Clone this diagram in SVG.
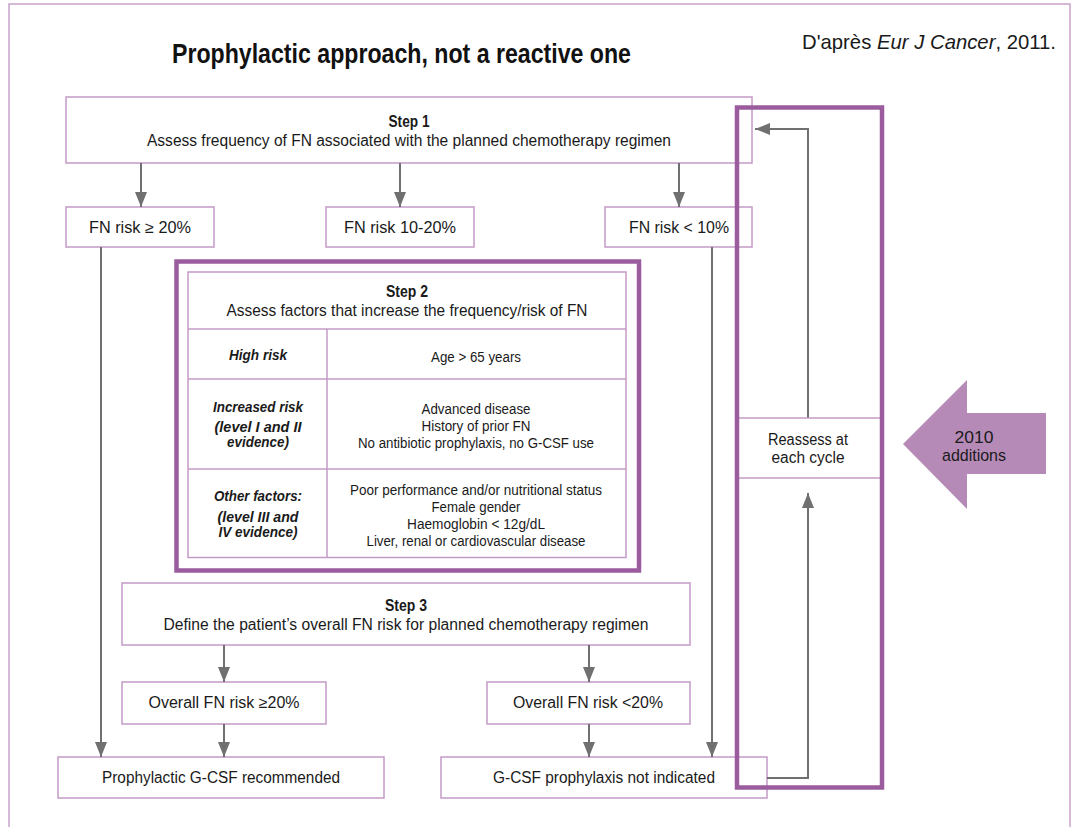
<svg xmlns="http://www.w3.org/2000/svg" width="1079" height="827" viewBox="0 0 1079 827">
<style>
.frame{fill:none;stroke:#c9a3cc;stroke-width:1.5}
.box{fill:#fff;stroke:#c49bc7;stroke-width:1.5}
.thin{fill:none;stroke:#c49bc7;stroke-width:1.5}
.thick{fill:none;stroke:#9b5c9e;stroke-width:4.5}
.conn{fill:none;stroke:#707070;stroke-width:2}
text{font-family:"Liberation Sans",Arial,sans-serif;fill:#1a1a1a;text-anchor:middle}
.start{text-anchor:start}
.t{font-size:16px}
.b{font-weight:bold}
.s{font-size:14px}
.bi{font-size:14px;font-weight:bold;font-style:italic}
.title{font-family:"Liberation Sans Narrow","Liberation Sans",Arial,sans-serif;font-size:28px;font-weight:bold;fill:#111}
.cite{font-size:21px}
.add{font-size:17px}
</style>
<defs>
<marker id="ah" markerUnits="userSpaceOnUse" markerWidth="15" markerHeight="12" refX="15" refY="6" orient="auto" viewBox="0 0 15 12">
<path d="M0,0 L15,6 L0,12 Z" fill="#707070"/>
</marker>
</defs>
<rect x="0" y="0" width="1079" height="827" fill="#fff"/>
<rect class="frame" x="9" y="4" width="1061" height="840"/>

<g id="title">
<text class="title start" x="172" y="63" textLength="459" lengthAdjust="spacingAndGlyphs">Prophylactic approach, not a reactive one</text>
</g>
<g id="citation">
<text class="cite start" x="802" y="49" textLength="254" lengthAdjust="spacingAndGlyphs">D'après <tspan font-style="italic">Eur J Cancer</tspan>, 2011.</text>
</g>

<g id="step1">
<rect class="box" x="66" y="97" width="686" height="66"/>
<text class="t b" x="409" y="127" textLength="41" lengthAdjust="spacingAndGlyphs">Step 1</text>
<text class="t" x="409" y="146" textLength="524" lengthAdjust="spacingAndGlyphs">Assess frequency of FN associated with the planned chemotherapy regimen</text>
</g>

<g id="fn-high">
<rect class="box" x="66" y="207" width="148" height="40"/>
<text class="t" x="140" y="233" textLength="102" lengthAdjust="spacingAndGlyphs">FN risk ≥ 20%</text>
</g>
<g id="fn-mid">
<rect class="box" x="326" y="207" width="148" height="40"/>
<text class="t" x="400" y="233" textLength="112" lengthAdjust="spacingAndGlyphs">FN risk 10-20%</text>
</g>
<g id="fn-low">
<rect class="box" x="605" y="207" width="147" height="40"/>
<text class="t" x="679" y="233" textLength="100" lengthAdjust="spacingAndGlyphs">FN risk &lt; 10%</text>
</g>

<g id="step2">
<rect class="box" x="188" y="272" width="438" height="285.5"/>
<line class="thin" x1="188" y1="329" x2="626" y2="329"/>
<line class="thin" x1="188" y1="379" x2="626" y2="379"/>
<line class="thin" x1="188" y1="469" x2="626" y2="469"/>
<line class="thin" x1="327" y1="329" x2="327" y2="557.5"/>
<rect class="thick" x="176.5" y="261.5" width="462.5" height="309"/>
<text class="t b" x="407" y="297" textLength="42" lengthAdjust="spacingAndGlyphs">Step 2</text>
<text class="t" x="407" y="316" textLength="361" lengthAdjust="spacingAndGlyphs">Assess factors that increase the frequency/risk of FN</text>
<text class="bi" x="258" y="360" textLength="58" lengthAdjust="spacingAndGlyphs">High risk</text>
<text class="s" x="476" y="362" textLength="90" lengthAdjust="spacingAndGlyphs">Age &gt; 65 years</text>
<text class="bi" x="258" y="412" textLength="90" lengthAdjust="spacingAndGlyphs">Increased risk</text>
<text class="bi" x="258" y="432" textLength="87" lengthAdjust="spacingAndGlyphs">(level I and II</text>
<text class="bi" x="258" y="447" textLength="62" lengthAdjust="spacingAndGlyphs">evidence)</text>
<text class="s" x="476" y="414" textLength="109" lengthAdjust="spacingAndGlyphs">Advanced disease</text>
<text class="s" x="476" y="431" textLength="109" lengthAdjust="spacingAndGlyphs">History of prior FN</text>
<text class="s" x="476" y="448" textLength="236" lengthAdjust="spacingAndGlyphs">No antibiotic prophylaxis, no G-CSF use</text>
<text class="bi" x="258" y="501" textLength="88" lengthAdjust="spacingAndGlyphs">Other factors:</text>
<text class="bi" x="258" y="522" textLength="81" lengthAdjust="spacingAndGlyphs">(level III and</text>
<text class="bi" x="258" y="537" textLength="79" lengthAdjust="spacingAndGlyphs">IV evidence)</text>
<text class="s" x="476" y="495" textLength="252" lengthAdjust="spacingAndGlyphs">Poor performance and/or nutritional status</text>
<text class="s" x="476" y="512" textLength="89" lengthAdjust="spacingAndGlyphs">Female gender</text>
<text class="s" x="476" y="529" textLength="138" lengthAdjust="spacingAndGlyphs">Haemoglobin &lt; 12g/dL</text>
<text class="s" x="476" y="546" textLength="219" lengthAdjust="spacingAndGlyphs">Liver, renal or cardiovascular disease</text>
</g>

<g id="step3">
<rect class="box" x="122" y="583" width="568" height="62"/>
<text class="t b" x="406" y="611" textLength="42" lengthAdjust="spacingAndGlyphs">Step 3</text>
<text class="t" x="406" y="630" textLength="485" lengthAdjust="spacingAndGlyphs">Define the patient’s overall FN risk for planned chemotherapy regimen</text>
</g>

<g id="overall-high">
<rect class="box" x="122" y="682" width="204" height="42"/>
<text class="t" x="224" y="708" textLength="151" lengthAdjust="spacingAndGlyphs">Overall FN risk ≥20%</text>
</g>
<g id="overall-low">
<rect class="box" x="487" y="682" width="203" height="42"/>
<text class="t" x="588" y="708" textLength="150" lengthAdjust="spacingAndGlyphs">Overall FN risk &lt;20%</text>
</g>

<g id="gcsf-yes">
<rect class="box" x="58" y="757" width="326" height="41"/>
<text class="t" x="221" y="783" textLength="238" lengthAdjust="spacingAndGlyphs">Prophylactic G-CSF recommended</text>
</g>
<g id="gcsf-no">
<rect class="box" x="441" y="757" width="326" height="41"/>
<text class="t" x="604" y="783" textLength="222" lengthAdjust="spacingAndGlyphs">G-CSF prophylaxis not indicated</text>
</g>

<g id="connectors">
<line class="conn" x1="141" y1="163" x2="141" y2="207" marker-end="url(#ah)"/>
<line class="conn" x1="400" y1="163" x2="400" y2="207" marker-end="url(#ah)"/>
<line class="conn" x1="679" y1="163" x2="679" y2="207" marker-end="url(#ah)"/>
<line class="conn" x1="101" y1="247" x2="101" y2="757" marker-end="url(#ah)"/>
<line class="conn" x1="712" y1="247" x2="712" y2="757" marker-end="url(#ah)"/>
<line class="conn" x1="224" y1="645" x2="224" y2="682" marker-end="url(#ah)"/>
<line class="conn" x1="589" y1="645" x2="589" y2="682" marker-end="url(#ah)"/>
<line class="conn" x1="224" y1="724" x2="224" y2="757" marker-end="url(#ah)"/>
<line class="conn" x1="589" y1="724" x2="589" y2="757" marker-end="url(#ah)"/>
<polyline class="conn" points="767,778 808,778 808,493" marker-end="url(#ah)"/>
<polyline class="conn" points="808,418 808,129 755,129" marker-end="url(#ah)"/>
</g>

<g id="reassess">
<line class="thin" x1="737" y1="418" x2="882" y2="418"/>
<line class="thin" x1="737" y1="478" x2="882" y2="478"/>
<text class="t" x="808" y="445" textLength="80" lengthAdjust="spacingAndGlyphs">Reassess at</text>
<text class="t" x="808" y="463" textLength="73" lengthAdjust="spacingAndGlyphs">each cycle</text>
</g>
<g id="additions-frame">
<rect class="thick" x="737" y="107.5" width="145" height="680"/>
</g>

<g id="additions-arrow">
<polygon points="903,444 967,380 967,413 1046,413 1046,474 967,474 967,509" fill="#b68ab7"/>
<text class="add" x="974" y="443" textLength="39" lengthAdjust="spacingAndGlyphs">2010</text>
<text class="add" x="974" y="461" textLength="64" lengthAdjust="spacingAndGlyphs">additions</text>
</g>
</svg>
